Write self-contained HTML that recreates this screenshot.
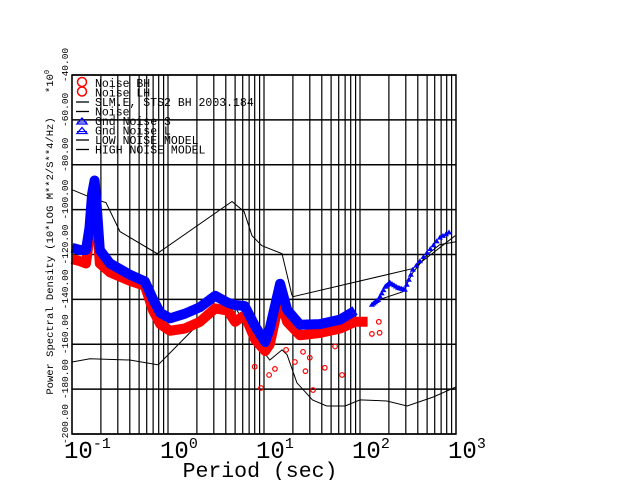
<!DOCTYPE html>
<html><head><meta charset="utf-8"><style>
body{margin:0;background:#fff;}
svg text{font-family:"Liberation Mono",monospace;}
</style></head><body>
<svg id="chart" width="640" height="480" viewBox="0 0 640 480" xmlns="http://www.w3.org/2000/svg">
<g id="grid"></g>
<g id="models"></g>
<g id="series"></g>
<rect x="72" y="75" width="384" height="359" fill="none" stroke="#000" stroke-width="1.5"/>
<g id="yticks"></g>
<g id="xticks"></g>
<text transform="translate(53,256) rotate(-90)" text-anchor="middle" font-size="10.5">Power Spectral Density (10*LOG M**2/S**4/Hz)</text>
<text transform="translate(53,93) rotate(-90)" font-size="10.5">*10<tspan font-size="7" dy="-4">0</tspan></text>
<text x="260" y="477" text-anchor="middle" font-size="21.5">Period (sec)</text>
<g id="legend"></g>
</svg>
<script>
const yTicks=[-200,-180,-160,-140,-120,-100,-80,-60,-40];
const xDecades=[-1,0,1,2,3];
const highModelP=[0.1,0.166,0.226,0.316,0.77,4.64,6.2,7.5,9.5,15.4,19.5,20,355,980];
const highModelDb=[-91.1,-95,-96.9,-109.8,-119.6,-96.4,-100.9,-111.6,-116.1,-119.6,-137.9,-138.8,-126.3,-111.6];
const lowModelP=[0.1,0.154,0.4,0.79,1.33,2.3,3.9,5.2,6.6,8.4,11.5,15.4,17.4,22,32,45,70,100,190,310,580,1000];
const lowModelDb=[-167.9,-166.5,-167,-169.2,-159.4,-149.1,-141.5,-144.6,-152.2,-159.4,-167,-162.5,-164.7,-177.2,-184.8,-187.5,-187.5,-184.8,-185.3,-187.5,-183.5,-179];
const tailModelP=[170,280,355,500,680,1000];
const tailModelDb=[-139.7,-136.6,-128.1,-120.1,-115.6,-114.3];
const blueP=[0.1,0.121,0.14,0.152,0.162,0.172,0.182,0.195,0.249,0.4,0.575,0.7,0.83,1.05,1.5,2.15,3.1,4.2,5.0,6.3,8.1,10.3,11.5,14.7,17.4,23.7,38,62,89,133,155,183,205,249,293,355,500,680,910];
const blueDb=[-117,-118,-118,-108,-93,-87,-100,-118,-124,-129,-132,-140,-146,-148.5,-146.4,-143.5,-138.4,-141.5,-142.5,-143,-152,-159,-153,-133,-144.6,-151.3,-151,-149,-145,-142.4,-140.2,-134.4,-132.6,-134.8,-135.7,-126.8,-119.2,-112.5,-109.4];
const redP=[0.1,0.121,0.14,0.152,0.162,0.172,0.182,0.195,0.249,0.4,0.575,0.7,0.83,1.05,1.5,2.15,3.1,4.2,5.0,6.3,8.1,10.3,11.5,14.7,17.4,23.7,38,62,89,120];
const redDb=[-122,-123,-124,-112,-98,-93,-105,-124,-128,-131.7,-134,-145,-151,-154,-153,-150,-144,-145,-150,-147,-158,-163,-160,-139,-150,-156,-155,-153,-150,-150];
const outP=[9.3,11.3,13,32.4,65,43,21,133,160,157,25.5,30,17,10.5,8,27,55];
const outDb=[-179.5,-173.7,-171,-180.4,-173.7,-170.5,-167.9,-155.4,-154.9,-150,-163.4,-166,-162.5,-160,-170,-172,-161];
const legendLabels=["Noise BH","Noise LH","SLM.E, STS2 BH  2003.184","Noise","Gnd Noise 3","Gnd Noise L","LOW NOISE MODEL","HIGH NOISE MODEL"];
const legendIcons=["circle","circle","line","line","tri","tri","line","line"];

const NS="http://www.w3.org/2000/svg";
const X0=72,X1=456,Y0=434,Y1=75;
function xs(p){return X0+(Math.log10(p)+1)*(X1-X0)/4;}
function ys(v){return Y0-(v+200)*(Y0-Y1)/160;}
function mk(tag,attrs,parent){const e=document.createElementNS(NS,tag);for(const k in attrs)e.setAttribute(k,attrs[k]);parent.appendChild(e);return e;}
const grid=document.getElementById('grid');
for(let d=-1;d<3;d++){for(let m=1;m<10;m++){const x=xs(m*Math.pow(10,d));
const l=mk('line',{x1:x,x2:x,y1:Y1,y2:Y0,stroke:'#000','stroke-width':1.2},grid);

}}
const yt=document.getElementById('yticks');
yTicks.forEach(v=>{const y=ys(v);
const l=mk('line',{x1:X0,x2:X1,y1:y,y2:y,stroke:'#000','stroke-width':1.4},grid);


const t=mk('text',{transform:`translate(68,${y-10}) rotate(-90)`,'text-anchor':'middle','font-size':9.5},yt);
t.textContent=v.toFixed(2);

});
const xt=document.getElementById('xticks');
xDecades.forEach(d=>{const x=xs(Math.pow(10,d));
const t=mk('text',{x:x-8,y:458,'font-size':24},xt);


t.appendChild(document.createTextNode('10'));
const s=mk('tspan',{dy:-10,'font-size':15},t);s.textContent=String(d);});
function pts(P,D){return P.map((p,i)=>xs(p).toFixed(1)+','+ys(D[i]).toFixed(1)).join(' ');}
const mg=document.getElementById('models');
[[highModelP,highModelDb,'high-noise-model'],[lowModelP,lowModelDb,'low-noise-model'],[tailModelP,tailModelDb,'model-tail']].forEach(a=>{
const l=mk('polyline',{points:pts(a[0],a[1]),fill:'none',stroke:'#000','stroke-width':1},mg);

});
const sg=document.getElementById('series');
const rl=mk('polyline',{points:pts(redP,redDb),fill:'none',stroke:'#ff0000','stroke-width':10,'stroke-linejoin':'round'},sg);


outP.forEach((p,i)=>{const c=mk('circle',{cx:xs(p),cy:ys(outDb[i]),r:2.3,fill:'none',stroke:'#ff0000','stroke-width':1.2},sg);

});
const bl=mk('polyline',{points:pts(blueP.filter(p=>p<130),blueDb.filter((v,i)=>blueP[i]<130)),fill:'none',stroke:'#0000ff','stroke-width':10,'stroke-linejoin':'round'},sg);


for(let i=0;i<blueP.length-1;i++){if(blueP[i]<120)continue;
for(let k=0;k<4;k++){const f=k/4;const lp=Math.log10(blueP[i])*(1-f)+Math.log10(blueP[i+1])*f;const v=blueDb[i]*(1-f)+blueDb[i+1]*f;
const x=xs(Math.pow(10,lp)),y=ys(v);
const t=mk('polygon',{points:`${x-3},${y+2} ${x+3},${y+2} ${x},${y-3}`,fill:'#0000ff'},sg);

}}
const lg=document.getElementById('legend');
legendLabels.forEach((s,i)=>{const y=83+i*9.5;
const t=mk('text',{x:95,y:y+4,'font-size':11.5},lg);t.textContent=s;


const ic=legendIcons[i];
if(ic==='circle'){mk('circle',{cx:82,cy:y-1,r:4.5,fill:'none',stroke:'#ff0000','stroke-width':1.5},lg);}
else if(ic==='tri'){mk('polygon',{points:`77,${y+3} 87,${y+3} 82,${y-3}`,fill:'none',stroke:'#0000ff','stroke-width':1.3},lg);mk('line',{x1:77,x2:87,y1:y+1,y2:y+1,stroke:'#0000ff'},lg);}
else{mk('line',{x1:76,x2:89,y1:y,y2:y,stroke:'#000','stroke-width':1.3},lg);}});
</script>
</body></html>
